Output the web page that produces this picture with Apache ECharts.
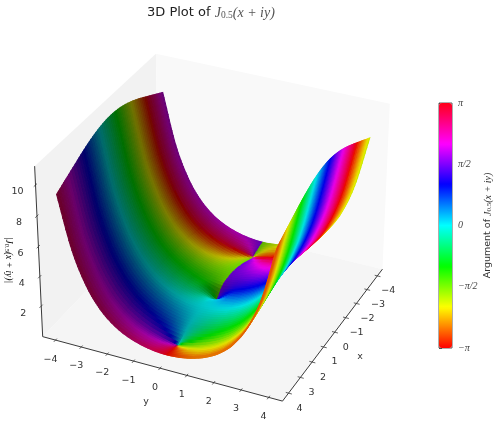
<!DOCTYPE html>
<html><head><meta charset="utf-8">
<style>html,body{margin:0;padding:0;background:#fff}#c{width:500px;height:436px}</style>
<script src="https://cdn.jsdelivr.net/npm/echarts@6/dist/echarts.min.js"></script>
</head><body><div id="c"></div>
<script>
const xValues = [-4,-3.5,-3.14,-2.5,-2,-1.5,-1,-0.5,0,0.5,1,1.5,2,2.5,3.14,3.5,4];
const yValues = [-4,-3.5,-3,-2.5,-2,-1.5,-1,-0.5,-0.001,0.001,0.5,1,1.5,2,2.5,3,3.5,4];
const xTicks = [-4,-3,-2,-1,0,1,2,3,4];
const yTicks = [-4,-3,-2,-1,0,1,2,3,4];
const zTicks = [2,4,6,8,10];
const barTickLabels = ['−π','−π/2','0','π/2','π'];
const hueStops = ['#ff0000','#ffff00','#00ff00','#00ffff','#0000ff','#ff00ff','#ff0018'];
// surface height per x (rows) and y (columns)
const heights = [
[9.159,5.731,3.585,2.240,1.398,0.872,0.549,0.365,0.302,0.302,0.365,0.549,0.872,1.398,2.240,3.585,5.731,9.159],
[9.446,5.934,3.725,2.332,1.448,0.882,0.513,0.267,0.150,0.150,0.267,0.513,0.882,1.448,2.332,3.725,5.934,9.446],
[9.655,6.087,3.835,2.409,1.500,0.911,0.516,0.233,0,0,0.233,0.516,0.911,1.500,2.409,3.835,6.087,9.655],
[10.028,6.369,4.052,2.580,1.639,1.034,0.641,0.397,0.302,0.302,0.397,0.641,1.034,1.639,2.580,4.052,6.369,10.028],
[10.303,6.584,4.227,2.728,1.774,1.168,0.793,0.582,0.513,0.513,0.582,0.793,1.168,1.774,2.728,4.227,6.584,10.303],
[10.542,6.776,4.386,2.865,1.898,1.288,0.916,0.714,0.650,0.650,0.714,0.916,1.288,1.898,2.865,4.386,6.776,10.542],
[10.729,6.927,4.511,2.970,1.987,1.361,0.970,0.747,0.671,0.671,0.747,0.970,1.361,1.987,2.970,4.511,6.927,10.729],
[10.847,7.023,4.589,3.033,2.033,1.385,0.958,0.672,0.541,0.541,0.672,0.958,1.385,2.033,3.033,4.589,7.023,10.847],
[10.887,7.055,4.615,3.053,2.046,1.387,0.938,0.588,0,0,0.588,0.938,1.387,2.046,3.053,4.615,7.055,10.887],
[10.847,7.023,4.589,3.033,2.033,1.385,0.958,0.672,0.541,0.541,0.672,0.958,1.385,2.033,3.033,4.589,7.023,10.847],
[10.729,6.927,4.511,2.970,1.987,1.361,0.970,0.747,0.671,0.671,0.747,0.970,1.361,1.987,2.970,4.511,6.927,10.729],
[10.542,6.776,4.386,2.865,1.898,1.288,0.916,0.714,0.650,0.650,0.714,0.916,1.288,1.898,2.865,4.386,6.776,10.542],
[10.303,6.584,4.227,2.728,1.774,1.168,0.793,0.582,0.513,0.513,0.582,0.793,1.168,1.774,2.728,4.227,6.584,10.303],
[10.028,6.369,4.052,2.580,1.639,1.034,0.641,0.397,0.302,0.302,0.397,0.641,1.034,1.639,2.580,4.052,6.369,10.028],
[9.655,6.087,3.835,2.409,1.500,0.911,0.516,0.233,0,0,0.233,0.516,0.911,1.500,2.409,3.835,6.087,9.655],
[9.446,5.934,3.725,2.332,1.448,0.882,0.513,0.267,0.150,0.150,0.267,0.513,0.882,1.448,2.332,3.725,5.934,9.446],
[9.159,5.731,3.585,2.240,1.398,0.872,0.549,0.365,0.302,0.302,0.365,0.549,0.872,1.398,2.240,3.585,5.731,9.159]
];
// argument in radians per x (rows) and y (columns)
const phases = [
[1.890,1.922,1.958,1.997,2.033,2.054,2.030,1.888,1.571,-1.571,-1.888,-2.030,-2.054,-2.033,-1.997,-1.958,-1.922,-1.890],
[2.357,2.390,2.427,2.468,2.511,2.546,2.545,2.389,1.571,-1.571,-2.389,-2.545,-2.546,-2.511,-2.468,-2.427,-2.390,-2.357],
[2.689,2.721,2.760,2.805,2.858,2.919,2.987,3.062,-1.571,1.571,-3.062,-2.987,-2.919,-2.858,-2.805,-2.760,-2.721,-2.689],
[-3.006,-2.975,-2.936,-2.886,-2.820,-2.722,-2.556,-2.224,-1.571,1.571,2.224,2.556,2.722,2.820,2.886,2.936,2.975,3.006],
[-2.554,-2.525,-2.490,-2.443,-2.379,-2.285,-2.138,-1.902,-1.571,1.571,1.902,2.138,2.285,2.379,2.443,2.490,2.525,2.554],
[-2.106,-2.083,-2.054,-2.016,-1.966,-1.900,-1.811,-1.699,-1.571,1.571,1.699,1.811,1.900,1.966,2.016,2.054,2.083,2.106],
[-1.663,-1.647,-1.627,-1.602,-1.570,-1.536,-1.509,-1.514,-1.571,1.571,1.514,1.509,1.536,1.570,1.602,1.627,1.647,1.663],
[-1.223,-1.215,-1.205,-1.193,-1.179,-1.167,-1.176,-1.261,-1.571,1.571,1.261,1.176,1.167,1.179,1.193,1.205,1.215,1.223],
[-0.785,-0.785,-0.785,-0.785,-0.785,-0.785,-0.785,-0.785,0,0,0.785,0.785,0.785,0.785,0.785,0.785,0.785,0.785],
[-0.348,-0.356,-0.366,-0.378,-0.392,-0.404,-0.395,-0.310,0,0,0.310,0.395,0.404,0.392,0.378,0.366,0.356,0.348],
[0.092,0.076,0.056,0.031,-0.001,-0.035,-0.062,-0.057,0,0,0.057,0.062,0.035,0.001,-0.031,-0.056,-0.076,-0.092],
[0.535,0.512,0.483,0.445,0.395,0.329,0.240,0.128,0,0,-0.128,-0.240,-0.329,-0.395,-0.445,-0.483,-0.512,-0.535],
[0.983,0.954,0.919,0.872,0.808,0.714,0.567,0.331,0,0,-0.331,-0.567,-0.714,-0.808,-0.872,-0.919,-0.954,-0.983],
[1.435,1.404,1.365,1.315,1.249,1.151,0.985,0.653,0,0,-0.653,-0.985,-1.151,-1.249,-1.315,-1.365,-1.404,-1.435],
[2.023,1.991,1.952,1.907,1.854,1.793,1.725,1.650,0,0,-1.650,-1.725,-1.793,-1.854,-1.907,-1.952,-1.991,-2.023],
[2.355,2.322,2.285,2.244,2.201,2.166,2.167,2.323,3.14,-3.14,-2.323,-2.167,-2.166,-2.201,-2.244,-2.285,-2.322,-2.355],
[2.822,2.790,2.754,2.715,2.679,2.658,2.682,2.824,3.14,-3.14,-2.824,-2.682,-2.658,-2.679,-2.715,-2.754,-2.790,-2.822]
];

// view settings
const view = {azim:25, elev:31, dist:10, scale:2285, cx:216.5, cy:220,
  xLim:[-4.5,4.5], yLim:[-4.5,4.5], zLim:[-0.1,11.2], box:[1.143,1.143,0.857]};
const rad = Math.PI/180;
const ca=Math.cos(view.azim*rad), sa=Math.sin(view.azim*rad), ce=Math.cos(view.elev*rad), se=Math.sin(view.elev*rad);
const W=[ce*ca,ce*sa,se];
const U=[-sa,ca,0];
const V=[-se*ca,-se*sa,ce];
function toBox(x,y,z){return [
  ((x-view.xLim[0])/(view.xLim[1]-view.xLim[0])-0.5)*view.box[0],
  ((y-view.yLim[0])/(view.yLim[1]-view.yLim[0])-0.5)*view.box[1],
  ((z-view.zLim[0])/(view.zLim[1]-view.zLim[0])-0.5)*view.box[2]];}
const dot=(a,b)=>a[0]*b[0]+a[1]*b[1]+a[2]*b[2];
function project(x,y,z){
  const p=toBox(x,y,z); const d=view.dist-dot(p,W);
  return [view.cx+view.scale*dot(p,U)/d, view.cy-view.scale*dot(p,V)/d];
}
function depth(x,y,z){return dot(toBox(x,y,z),W);}

// colour
function hexRgb(h){return [parseInt(h.substr(1,2),16),parseInt(h.substr(3,2),16),parseInt(h.substr(5,2),16)];}
const stopRgb=hueStops.map(hexRgb);
function hueColor(arg,shade){
  const t=Math.min(0.99999,Math.max(0,(arg+Math.PI)/(2*Math.PI)))*(stopRgb.length-1);
  const k=Math.floor(t),f=t-k,a=stopRgb[k],b=stopRgb[k+1];
  return 'rgb('+[0,1,2].map(c=>Math.round((a[c]+(b[c]-a[c])*f)*shade)).join(',')+')';
}
const light=[-0.667,-0.667,0.333];
function shadeOf(p0,p1,p2,p3){
  const a=[p2[0]-p0[0],p2[1]-p0[1],p2[2]-p0[2]], b=[p3[0]-p1[0],p3[1]-p1[1],p3[2]-p1[2]];
  let n=[a[1]*b[2]-a[2]*b[1],a[2]*b[0]-a[0]*b[2],a[0]*b[1]-a[1]*b[0]];
  if(n[2]<0)n=[-n[0],-n[1],-n[2]];
  const l=Math.hypot(n[0],n[1],n[2])||1;
  return 0.3+0.7*((n[0]*light[0]+n[1]*light[1]+n[2]*light[2])/l+1)/2;
}
// smooth sampling inside one table cell, so the drawn sheet has no facets
const GAP=8, NY=yValues.length, NX=xValues.length, SUBU=4, SUBV=10;
function hermite(p1,p2,m1,m2,t){
  const t2=t*t,t3=t2*t;
  return (2*t3-3*t2+1)*p1+(t3-2*t2+t)*m1+(-2*t3+3*t2)*p2+(t3-t2)*m2;
}
function colH(i,j,v){
  const h=heights[i],p1=h[j],p2=h[j+1];
  let m1,m2;
  if(j===GAP+1){ m1=p1>0?0:(p2-p1); m2=(h[j+2]-p1)/2; }
  else if(j===GAP-1){ m1=(p2-h[j-1])/2; m2=p2>0?0:(p2-p1); }
  else { m1=j>0?(p2-h[j-1])/2:p2-p1; m2=j+2<NY?(h[j+2]-p1)/2:p2-p1; }
  return Math.max(0,hermite(p1,p2,m1,m2,v));
}
function sample(i,j,u,v){
  const X=xValues, dx=X[i+1]-X[i];
  const x=X[i]+dx*u;
  const y=yValues[j]+(yValues[j+1]-yValues[j])*v;
  const a=colH(i,j,v),b=colH(i+1,j,v);
  const m1=i>0?(b-colH(i-1,j,v))/(X[i+1]-X[i-1])*dx:b-a;
  const m2=i+2<NX?(colH(i+2,j,v)-a)/(X[i+2]-X[i])*dx:b-a;
  return [x,y,Math.max(0,hermite(a,b,m1,m2,u))];
}
function argAt(i,j,u,v){
  let re=0,im=0;
  [[i,j,(1-u)*(1-v)],[i+1,j,u*(1-v)],[i,j+1,(1-u)*v],[i+1,j+1,u*v]].forEach(c=>{
    const m=heights[c[0]][c[1]],a=phases[c[0]][c[1]];
    re+=c[2]*m*Math.cos(a); im+=c[2]*m*Math.sin(a);
  });
  return Math.atan2(im,re);
}
const cells=[];
for(let i=0;i<NX-1;i++)for(let j=0;j<NY-1;j++){
  if(j===GAP)continue;
  const m=sample(i,j,0.5,0.5);
  cells.push([i,j,depth(m[0],m[1],m[2])]);
}
cells.sort((a,b)=>a[2]-b[2]);

function renderCell(params,api){
  const i=api.value(0),j=api.value(1),kids=[];
  for(let a=0;a<SUBU;a++)for(let b=0;b<SUBV;b++){
    const u0=a/SUBU,u1=(a+1)/SUBU,v0=b/SUBV,v1=(b+1)/SUBV;
    const P=[sample(i,j,u0,v0),sample(i,j,u1,v0),sample(i,j,u1,v1),sample(i,j,u0,v1)];
    const col=hueColor(argAt(i,j,(u0+u1)/2,(v0+v1)/2),shadeOf(P[0],P[1],P[2],P[3]));
    kids.push({type:'polygon',shape:{points:P.map(p=>api.coord(project(p[0],p[1],p[2])))},
      style:{fill:col,stroke:col,lineWidth:1.1},silent:true});
  }
  return {type:'group',children:kids};
}
const xa=view.xLim,ya=view.yLim,za=view.zLim;
const panes=[
 {c:'#f2f2f2',p:[[xa[1],ya[0],za[0]],[xa[0],ya[0],za[0]],[xa[0],ya[0],za[1]],[xa[1],ya[0],za[1]]]},
 {c:'#f9f9f9',p:[[xa[0],ya[0],za[0]],[xa[0],ya[1],za[0]],[xa[0],ya[1],za[1]],[xa[0],ya[0],za[1]]]},
 {c:'#f5f5f5',p:[[xa[0],ya[0],za[0]],[xa[1],ya[0],za[0]],[xa[1],ya[1],za[0]],[xa[0],ya[1],za[0]]]}
];
function renderPanes(params,api){
  const k=panes[api.value(0)];
  return {type:'polygon',shape:{points:k.p.map(p=>api.coord(project(p[0],p[1],p[2])))},style:{fill:k.c},silent:true};
}
const AX='#3a3a3a', TX='#333';
function seg(api,a,b,w){
  const p=api.coord(project(a[0],a[1],a[2])),q=api.coord(project(b[0],b[1],b[2]));
  return {type:'line',shape:{x1:p[0],y1:p[1],x2:q[0],y2:q[1]},style:{stroke:AX,lineWidth:w||0.8},silent:true};
}
function lab(api,pos,dx,dy,t){
  const p=api.coord(project(pos[0],pos[1],pos[2]));
  return {type:'text',x:p[0]+dx,y:p[1]+dy,style:{text:t,fill:TX,fontSize:9.5,fontFamily:'DejaVu Sans',align:'center',verticalAlign:'middle'},silent:true};
}
const fmt=v=>String(v).replace('-','−');
function renderAxes(params,api){
  const kids=[];
  kids.push(seg(api,[xa[1],ya[0],za[0]],[xa[1],ya[1],za[0]],1));
  kids.push(seg(api,[xa[1],ya[1],za[0]],[xa[0],ya[1],za[0]],1));
  kids.push(seg(api,[xa[1],ya[0],za[0]],[xa[1],ya[0],za[1]],1));
  yTicks.forEach(t=>{kids.push(seg(api,[xa[1]-0.1,t,za[0]],[xa[1]+0.12,t,za[0]]));kids.push(lab(api,[xa[1],t,za[0]],-5,19,fmt(t)));});
  xTicks.forEach(t=>{kids.push(seg(api,[t,ya[1]-0.1,za[0]],[t,ya[1]+0.12,za[0]]));kids.push(lab(api,[t,ya[1],za[0]],11,15,fmt(t)));});
  zTicks.forEach(t=>{kids.push(seg(api,[xa[1]-0.1,ya[0],t],[xa[1]+0.12,ya[0],t]));kids.push(lab(api,[xa[1],ya[0],t],-18,7,fmt(t)));});
  return {type:'group',children:kids};
}
const mathRich={
  t:{fontFamily:'DejaVu Sans',fontSize:13,fontWeight:'normal',color:'#222'},
  m:{fontFamily:'Liberation Serif',fontStyle:'italic',fontWeight:'normal',fontSize:14,color:'#555'},
  s:{fontFamily:'Liberation Serif',fontWeight:'normal',fontSize:9.5,color:'#555',verticalAlign:'bottom'},
  n:{fontFamily:'DejaVu Sans',fontSize:9.5,color:'#333'},
  a:{fontFamily:'Liberation Serif',fontStyle:'italic',fontSize:10,color:'#333'},
  b:{fontFamily:'Liberation Serif',fontSize:7,color:'#333',verticalAlign:'bottom'},
  z:{fontFamily:'Liberation Serif',fontStyle:'italic',fontSize:9.5,color:'#888'},
  zs:{fontFamily:'Liberation Serif',fontSize:6.5,color:'#888',verticalAlign:'bottom'},
  k:{fontFamily:'Liberation Serif',fontStyle:'italic',fontSize:10,color:'#444'}
};
const chart=echarts.init(document.getElementById('c'),null,{renderer:'canvas'});
chart.setOption({
  animation:false,
  backgroundColor:'#fff',
  title:{text:'{t|3D Plot of }{m|J}{s|0.5}{m|(x + iy)}',left:147,top:6,padding:0,textStyle:{fontWeight:'normal',rich:mathRich}},
  grid:[{left:0,right:0,top:0,bottom:0,show:false},
        {left:439,top:103,width:13,height:245,show:true,borderColor:'#333',borderWidth:0.8,backgroundColor:'transparent'}],
  xAxis:[{type:'value',gridIndex:0,min:0,max:500,show:false},{type:'value',gridIndex:1,min:0,max:1,show:false}],
  yAxis:[{type:'value',gridIndex:0,min:0,max:436,inverse:true,show:false},
    {type:'value',gridIndex:1,position:'right',min:-Math.PI,max:Math.PI,interval:Math.PI/2,
     axisLine:{show:false},splitLine:{show:false},
     axisTick:{show:true,length:3,lineStyle:{color:'#333',width:0.8}},
     axisLabel:{margin:6,formatter:(v)=>'{k|'+barTickLabels[Math.round(v/(Math.PI/2))+2]+'}',rich:mathRich},
     name:'{n|Argument of }{a|J}{b|0.5}{a|(x + iy)}',nameLocation:'middle',nameGap:31,nameRotate:90,
     nameTextStyle:{rich:mathRich}}],
  visualMap:{type:'continuous',min:-Math.PI,max:Math.PI,seriesIndex:3,show:true,left:439,top:103,padding:0,
     itemWidth:13,itemHeight:245,calculable:false,realtime:false,hoverLink:false,showLabel:false,text:null,
     inRange:{color:hueStops}},
  series:[
   {type:'custom',coordinateSystem:'cartesian2d',xAxisIndex:0,yAxisIndex:0,clip:false,silent:true,data:[[0],[1],[2]],renderItem:renderPanes},
   {type:'custom',coordinateSystem:'cartesian2d',xAxisIndex:0,yAxisIndex:0,clip:false,silent:true,data:cells,renderItem:renderCell},
   {type:'custom',coordinateSystem:'cartesian2d',xAxisIndex:0,yAxisIndex:0,clip:false,silent:true,data:[[0]],
     renderItem:function(p,api){const k=renderAxes(p,api);
       k.children.push({type:'text',x:146,y:402,style:{text:'y',fill:TX,fontSize:9.5,fontFamily:'DejaVu Sans',align:'center',verticalAlign:'middle'}});
       k.children.push({type:'text',x:360,y:357,style:{text:'x',fill:TX,fontSize:9.5,fontFamily:'DejaVu Sans',align:'center',verticalAlign:'middle'}});
       k.children.push({type:'text',x:8,y:260,rotation:-Math.PI/2,style:{rich:mathRich,text:'{z||J}{zs|0.5}{z|(x + iy)|}',align:'center',verticalAlign:'middle'}});
       return k;}},
   {type:'custom',coordinateSystem:'cartesian2d',xAxisIndex:1,yAxisIndex:1,silent:true,data:[],renderItem:()=>null}
  ]
});
</script></body></html>
